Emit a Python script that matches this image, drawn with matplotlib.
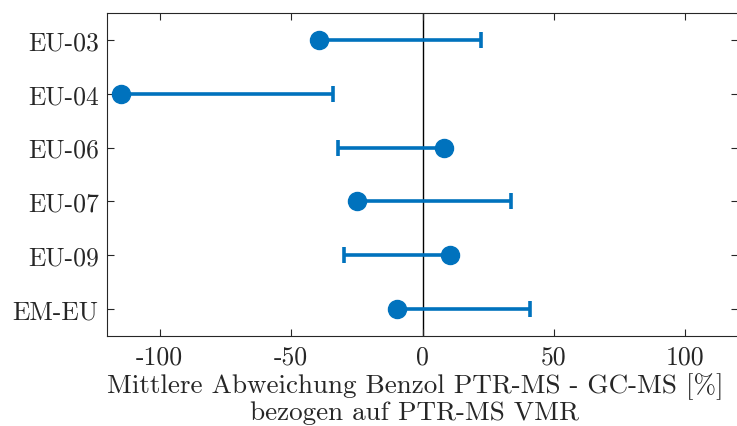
import matplotlib
matplotlib.use("Agg")
import matplotlib.pyplot as plt

plt.rcParams['font.family'] = 'serif'
plt.rcParams['font.serif'] = ['cmr10', 'DejaVu Serif']
plt.rcParams['axes.formatter.use_mathtext'] = True

stations = ["EU-03", "EU-04", "EU-06", "EU-07", "EU-09", "EM-EU"]
mean_dev = [-39.4, -114.7, 8.2, -24.9, 10.4, -9.8]
bound = [22.4, -34.0, -32.0, 33.6, -30.0, 40.8]
xticks = [-100, -50, 0, 50, 100]
xticklabels = ["-100", "-50", "0", "50", "100"]

color = "#0072BD"
ink = "#262626"
fs = 18.5
W, H = 737, 427
fig = plt.figure(figsize=(W / 100, H / 100), dpi=100)
ax = fig.add_axes([107 / W, (H - 337) / H, (738 - 107) / W, (337 - 14) / H])

ypos = list(range(1, len(stations) + 1))
ax.axvline(0, color="black", lw=1.0, zorder=1)

for y, m, b in zip(ypos, mean_dev, bound):
    lower = max(m - b, 0)
    upper = max(b - m, 0)
    ax.errorbar([m], [y], xerr=[[lower], [upper]], fmt="o", color=color,
                ms=13, elinewidth=2.6, capsize=6, capthick=2.6, zorder=3)

ax.set_xlim(-120, 120)
ax.set_ylim(len(stations) + 0.5, 0.5)
ax.set_yticks(ypos)
ax.set_yticklabels(stations, fontsize=fs, color=ink)
ax.set_xticks(xticks)
ax.set_xticklabels(xticklabels, fontsize=fs, color=ink)
ax.tick_params(direction="in", length=5, width=0.8, color=ink,
               top=True, right=True, pad=6)
for sp in ax.spines.values():
    sp.set_color(ink)
    sp.set_linewidth(0.8)

ax.set_xlabel("Mittlere Abweichung Benzol PTR-MS - GC-MS [%]\nbezogen auf PTR-MS VMR",
              fontsize=19.5, color=ink, linespacing=1.05, labelpad=3)
ax.xaxis.label.set_x(0.488)

fig.savefig("out.png", dpi=100)
